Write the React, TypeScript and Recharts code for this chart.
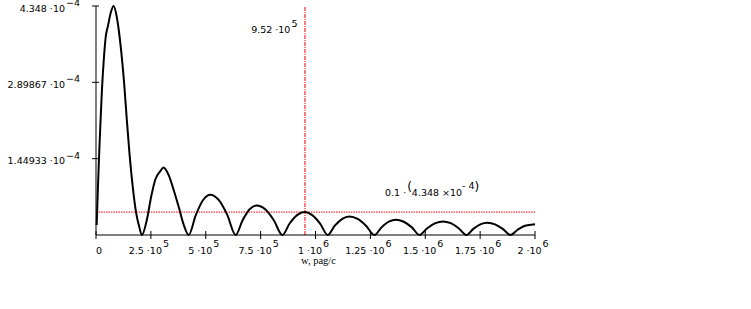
import { Line, LineChart, ReferenceLine, XAxis, YAxis } from "recharts";

// spectrum |S(w)|, w in rad/s
const FREQ = [
  3000, 8000, 14000, 20000, 27000, 35000, 44000, 55000, 66000, 80000, 94700, 114300, 128000, 140400, 152300,
  167300, 182900, 196600, 209000,
  231800, 251500, 269800, 292700, 307700, 330600, 353500, 376300, 399200, 422000,
  455000, 488000, 521000, 559000, 598000, 636000,
  668000, 700000, 732000, 771000, 810000, 849000,
  882000, 916000, 950000, 985000, 1021000, 1056000,
  1088000, 1122000, 1154000, 1192000, 1230000, 1268000,
  1301000, 1334000, 1367000, 1402000, 1439000, 1474000,
  1509000, 1546000, 1581000, 1616000, 1652000, 1687000,
  1719000, 1751000, 1783000, 1818000, 1853000, 1888000,
  1921000, 1954000, 2000000,
];

const AMPL = [
  1.9e-5, 8.0e-5, 1.5e-4, 2.1e-4, 2.75e-4, 3.3e-4, 3.75e-4, 3.98e-4, 4.2e-4, 4.348e-4, 4.14e-4, 3.51e-4,
  2.89e-4, 2.19e-4, 1.56e-4, 0.92e-4, 0.42e-4, 0.16e-4, 0,
  0.29e-4, 0.73e-4, 1.05e-4, 1.21e-4, 1.28e-4, 1.14e-4, 0.86e-4, 0.54e-4, 0.2e-4, 0,
  0.382e-4, 0.665e-4, 0.764e-4, 0.665e-4, 0.382e-4, 0,
  0.28e-4, 0.488e-4, 0.561e-4, 0.488e-4, 0.28e-4, 0,
  0.218e-4, 0.378e-4, 0.435e-4, 0.378e-4, 0.218e-4, 0,
  0.177e-4, 0.307e-4, 0.353e-4, 0.307e-4, 0.177e-4, 0,
  0.145e-4, 0.252e-4, 0.29e-4, 0.252e-4, 0.145e-4, 0,
  0.129e-4, 0.224e-4, 0.258e-4, 0.224e-4, 0.129e-4, 0,
  0.117e-4, 0.203e-4, 0.233e-4, 0.203e-4, 0.117e-4, 0,
  0.1e-4, 0.175e-4, 0.205e-4,
];

const X_TICKS = [0, 250000, 500000, 750000, 1000000, 1250000, 1500000, 1750000, 2000000];
const X_TICK_TEXT = ["0", "2.5 ·10", "5 ·10", "7.5 ·10", "1 ·10", "1.25 ·10", "1.5 ·10", "1.75 ·10", "2 ·10"];
const X_TICK_EXP = ["", "5", "5", "5", "6", "6", "6", "6", "6"];

const Y_TICKS = [1.44933e-4, 2.89867e-4, 4.348e-4];
const Y_TICK_TEXT = ["1.44933 ·10", "2.89867 ·10", "4.348 ·10"];
const Y_TICK_EXP = "\u22124";

const PEAK = 4.348e-4;
const W_MARK = 952000;
const LEVEL = 0.1 * PEAK;

const FONT = "'DejaVu Sans', Verdana, sans-serif";
const RED = "#f00000";

const rows = FREQ.map((w, i) => ({ w, s: AMPL[i] }));

function XTick(props: any) {
  const { x, y, payload } = props;
  const i = X_TICKS.indexOf(payload.value);
  const exp = X_TICK_EXP[i];
  return (
    <g>
      <line x1={x} x2={x} y1={y - 4} y2={y + 4} stroke="#000" />
      <text x={exp ? x - 2 : x + 3} y={y + 18.5} textAnchor="middle" fontFamily={FONT} fontSize={9.5} fill="#000">
        {X_TICK_TEXT[i]}
        {exp && <tspan dx={1} dy={-6.5}>{exp}</tspan>}
      </text>
    </g>
  );
}

function YTick(props: any) {
  const { x, y, payload } = props;
  const i = Y_TICKS.indexOf(payload.value);
  if (i < 0) return null;
  return (
    <g>
      <line x1={x - 4} x2={x + 3} y1={y} y2={y} stroke="#000" />
      <text x={x - 16} y={y + 5.5} textAnchor="end" fontFamily={FONT} fontSize={9.5} fill="#000">
        {Y_TICK_TEXT[i]}
        <tspan dx={1} dy={-5.5}>{Y_TICK_EXP}</tspan>
      </text>
    </g>
  );
}

function MarkLabel(props: any) {
  const x = props.viewBox?.x ?? 303;
  return (
    <text x={x - 7.5} y={33} textAnchor="end" fontFamily={FONT} fontSize={9.5} fill="#000">
      9.52 ·10
      <tspan dx={1} dy={-6}>5</tspan>
    </text>
  );
}

function LevelLabel(props: any) {
  const vb = props.viewBox ?? { x: 96, y: 213 };
  return (
    <text x={vb.x + 289} y={vb.y - 16.5} fontFamily={FONT} fontSize={9.5} fill="#000">
      0.1 ·
      <tspan dx={1} dy={-5} fontSize={12}>(</tspan>
      <tspan dy={5}>4.348 ×10</tspan>
      <tspan dy={-7}>- 4</tspan>
      <tspan dy={2} fontSize={12}>)</tspan>
    </text>
  );
}

function AxisTitle(props: any) {
  const vb = props.viewBox ?? { x: 96, y: 235, width: 439 };
  return (
    <text x={vb.x + vb.width / 2 + 3} y={vb.y + 29} textAnchor="middle" fontFamily="'Liberation Serif', serif" fontSize={10.5} fill="#000">
      w, pag/c
    </text>
  );
}

// axis title sits mostly outside the picture, as in the source
function YTitle() {
  return (
    <text transform="translate(-3,118) rotate(-90)" textAnchor="middle" fontFamily="'Liberation Serif', serif" fontSize={11} fill="#000">
      S(w), B·c/m
    </text>
  );
}

export default function App() {
  return (
    <div style={{ position: "absolute", left: 0, top: 0, width: 751, height: 309, background: "#fff" }}>
      <LineChart width={751} height={309} data={rows} margin={{ top: 6, right: 216, bottom: 73, left: 95 }}>
        <XAxis
          dataKey="w"
          type="number"
          domain={[0, 2000000]}
          ticks={X_TICKS}
          interval={0}
          height={1}
          tickSize={0}
          tickMargin={0}
          tickLine={false}
          axisLine={{ stroke: "#000" }}
          tick={<XTick />}
          label={<AxisTitle />}
        />
        <YAxis
          type="number"
          domain={[0, PEAK]}
          ticks={Y_TICKS}
          interval={0}
          width={1}
          tickSize={0}
          tickMargin={0}
          tickLine={false}
          axisLine={{ stroke: "#000" }}
          tick={<YTick />}
          label={<YTitle />}
        />
        <ReferenceLine x={W_MARK} stroke={RED} strokeWidth={1} strokeDasharray="4 1 1 1" label={<MarkLabel />} />
        <ReferenceLine y={LEVEL} stroke={RED} strokeWidth={1} strokeDasharray="1.5 1" label={<LevelLabel />} />
        <Line
          dataKey="s"
          type="monotone"
          stroke="#000"
          strokeWidth={2}
          strokeLinejoin="round"
          dot={false}
          isAnimationActive={false}
        />
      </LineChart>
    </div>
  );
}
